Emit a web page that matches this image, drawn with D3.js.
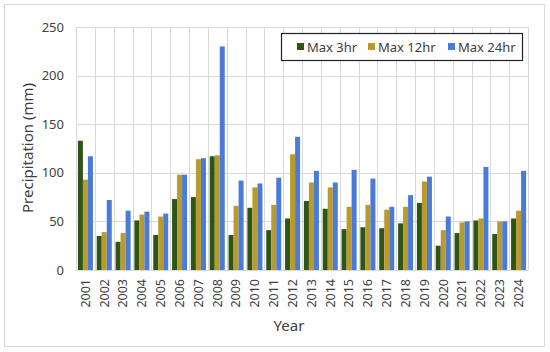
<!DOCTYPE html>
<html>
<head>
<meta charset="utf-8">
<script src="https://cdn.jsdelivr.net/npm/d3@7"></script>
<style>
  body { margin: 0; background: #fff; }
  svg { display: block; font-family: "Noto Sans", sans-serif; }
</style>
</head>
<body>
<svg id="chart" width="550" height="352"></svg>
<script>
var years = ["2001","2002","2003","2004","2005","2006","2007","2008","2009","2010","2011","2012",
  "2013","2014","2015","2016","2017","2018","2019","2020","2021","2022","2023","2024"];
var seriesNames = ["Max 3hr", "Max 12hr", "Max 24hr"];
var max3hr  = [133, 35, 29, 51, 36, 73, 75, 117, 36, 64, 41, 53, 71, 63, 42, 44, 43, 48, 69, 25, 38, 51, 37, 53];
var max12hr = [93, 39, 38, 57, 55, 98, 114, 118, 66, 85, 67, 119, 90, 85, 65, 67, 62, 65, 91, 41, 49, 53, 50, 61];
var max24hr = [117, 72, 61, 60, 58, 98, 115, 230, 92, 89, 95, 137, 102, 90, 103, 94, 65, 77, 96, 55, 50, 106, 50, 102];
var yTicks = [0, 50, 100, 150, 200, 250];
var colors = ["#2f5516", "#b89b2c", "#4a7bd8"];

var svg = d3.select("#chart");
var seriesValues = [max3hr, max12hr, max24hr];

// outer frame
svg.append("rect")
  .attr("x", 4.5).attr("y", 4.5)
  .attr("width", 540).attr("height", 342)
  .attr("fill", "none").attr("stroke", "#d9d9d9");

var x = d3.scaleBand().domain(years).range([76, 528]).padding(0);
var x1 = d3.scaleBand().domain(seriesNames).range([0, x.bandwidth()])
  .paddingInner(0).paddingOuter(0.38);
var y = d3.scaleLinear().domain([0, 250]).range([270, 27]);

// horizontal grid
svg.append("g").selectAll("line").data(yTicks).join("line")
  .attr("x1", 76).attr("x2", 528)
  .attr("y1", function(d) { return Math.round(y(d)) + 0.5; })
  .attr("y2", function(d) { return Math.round(y(d)) + 0.5; })
  .attr("stroke", "#d9d9d9");

// vertical grid at category edges
var edges = years.map(function(d) { return x(d); }).concat([528]);
svg.append("g").selectAll("line").data(edges).join("line")
  .attr("x1", function(d) { return Math.round(d) + 0.5; })
  .attr("x2", function(d) { return Math.round(d) + 0.5; })
  .attr("y1", 27).attr("y2", 270)
  .attr("stroke", "#d9d9d9");

// bars
var groups = svg.append("g").selectAll("g").data(years).join("g")
  .attr("transform", function(d) { return "translate(" + x(d) + ",0)"; });
groups.selectAll("rect")
  .data(function(d, i) { return seriesNames.map(function(s, j) { return { s: s, v: seriesValues[j][i], j: j }; }); })
  .join("rect")
  .attr("x", function(d) { return x1(d.s); })
  .attr("width", x1.bandwidth())
  .attr("y", function(d) { return y(d.v); })
  .attr("height", function(d) { return y(0) - y(d.v); })
  .attr("fill", function(d) { return colors[d.j]; });

// y axis
var yAxis = svg.append("g").attr("transform", "translate(64,0)")
  .call(d3.axisLeft(y).tickValues(yTicks).tickSize(0).tickPadding(0));
yAxis.select(".domain").remove();
yAxis.selectAll("text").attr("font-size", 13).attr("fill", "#404040")
  .attr("font-family", "Noto Sans, sans-serif");

// x axis
var xAxis = svg.append("g").attr("transform", "translate(0,270)")
  .call(d3.axisBottom(x).tickSize(0));
xAxis.select(".domain").remove();
xAxis.selectAll("text")
  .attr("font-size", 12.5).attr("fill", "#404040")
  .attr("font-family", "Noto Sans, sans-serif")
  .attr("transform", "rotate(-90)")
  .attr("text-anchor", "end")
  .attr("x", -9).attr("y", 0).attr("dy", "0.35em");

// axis titles
svg.append("text")
  .attr("x", 289).attr("y", 331)
  .attr("text-anchor", "middle")
  .attr("font-size", 15).attr("fill", "#404040")
  .text("Year");
svg.append("text")
  .attr("transform", "translate(33,148) rotate(-90)")
  .attr("text-anchor", "middle")
  .attr("font-size", 15).attr("fill", "#404040")
  .text("Precipitation (mm)");

// legend
var legend = svg.append("g");
legend.append("rect")
  .attr("x", 281.5).attr("y", 33.5).attr("width", 241).attr("height", 27)
  .attr("fill", "#fff").attr("stroke", "#222").attr("stroke-width", 1.2);
var legendX = [297, 368, 448];
var items = legend.selectAll("g.item").data(seriesNames).join("g")
  .attr("class", "item")
  .attr("transform", function(d, i) { return "translate(" + legendX[i] + ",47)"; });
items.append("rect")
  .attr("x", 0).attr("y", -4).attr("width", 7).attr("height", 7)
  .attr("fill", function(d, i) { return colors[i]; });
items.append("text")
  .attr("x", 10).attr("y", 0).attr("dy", "0.35em")
  .attr("font-size", 13).attr("fill", "#404040")
  .text(function(d) { return d; });
</script>
</body>
</html>
